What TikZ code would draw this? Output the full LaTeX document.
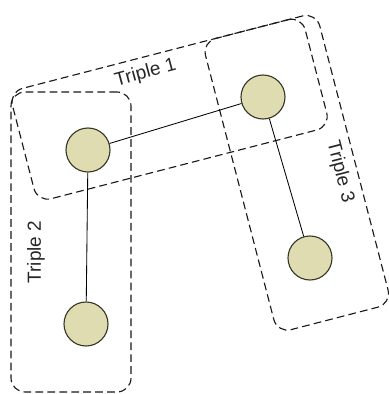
\documentclass[tikz,border=0pt]{standalone}
\usepackage{fontspec}
\setmainfont{Liberation Sans}
\definecolor{nodefill}{RGB}{222,220,176}
\definecolor{nodeline}{RGB}{55,55,40}
\begin{document}
\begin{tikzpicture}[
		vertex/.style={circle, draw=nodeline, line width=0.8pt, fill=nodefill, minimum size=1.1cm, inner sep=0pt},
		triple/.style={draw=black!90, dash pattern=on 5.5pt off 3pt, line width=0.8pt, rounded corners=0.35cm, inner sep=0pt},
		tlabel/.style={text=black!85, font=\fontsize{13.5}{16}\selectfont, inner sep=0pt}]
			\useasboundingbox (0,0) rectangle (9.7,9.85);
			\node [triple, minimum width=7.56cm, minimum height=2.85cm, rotate=14.5] (triple1) at (4.24,7.12) {};
			\node [triple, minimum width=3cm, minimum height=7.5cm] (triple2) at (1.775,3.8) {};
			\node [triple, minimum width=2.95cm, minimum height=7.52cm, rotate=14.5] (triple3) at (7.42,5.53) {};
			\node [tlabel, rotate=15] (lab1) at (3.64,8.02) {Triple 1};
			\node [tlabel, rotate=90] (lab2) at (0.9,3.55) {Triple 2};
			\node [tlabel, rotate=-75.5] (lab3) at (8.5,5.55) {Triple 3};
			\node [vertex] (a) at (2.2,6.1) {};
			\node [vertex] (b) at (6.575,7.425) {};
			\node [vertex] (c) at (2.15,1.75) {};
			\node [vertex] (d) at (7.75,3.4) {};
			\draw [line width=0.6pt] (a) -- (b);
			\draw [line width=0.6pt] (a) -- (c);
			\draw [line width=0.6pt] (b) -- (d);

		\end{tikzpicture}
\end{document}
